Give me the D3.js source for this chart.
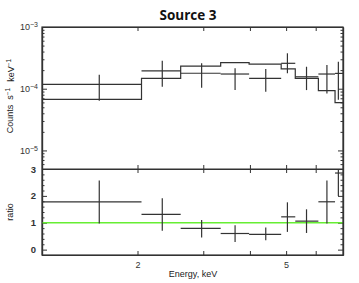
<!DOCTYPE html>
<html>
<head>
<meta charset="utf-8">
<script src="https://cdn.jsdelivr.net/npm/d3@7"></script>
<style>
  body { margin: 0; background: #fff; }
  text { font-family: "Liberation Sans", Arial, sans-serif; fill: #222; }
</style>
</head>
<body>
<div id="chart"></div>
<script>
// energy bins (keV)
const binLo  = [1.00, 2.05, 2.61, 3.34, 3.98, 4.85, 5.29, 6.10, 6.76];
const binHi  = [2.05, 2.61, 3.34, 3.98, 4.85, 5.29, 6.10, 6.76, 7.10];
const binMid = [1.58, 2.33, 2.97, 3.65, 4.41, 5.04, 5.67, 6.43, 6.90];

// counts s^-1 keV^-1
const rate   = [1.18e-4, 1.94e-4, 1.78e-4, 1.73e-4, 1.475e-4, 2.58e-4, 1.56e-4, 1.73e-4, 1.77e-4];
const rateLo = [6.4e-5, 1.08e-4, 1.04e-4, 9.5e-5, 8.9e-5, 1.78e-4, 9.5e-5, 8.4e-5, 6.6e-5];
const rateHi = [1.69e-4, 2.84e-4, 2.58e-4, 2.14e-4, 2.09e-4, 3.75e-4, 2.27e-4, 2.42e-4, 2.74e-4];
const model  = [6.73e-5, 1.475e-4, 2.33e-4, 2.64e-4, 2.51e-4, 2.09e-4, 1.475e-4, 9.3e-5, 5.93e-5];

// data / model
const ratio   = [1.78, 1.31, 0.79, 0.60, 0.57, 1.22, 1.06, 1.78, 2.85];
const ratioLo = [0.97, 0.70, 0.45, 0.28, 0.35, 0.66, 0.62, 0.97, 2.00];
const ratioHi = [2.57, 1.91, 1.10, 0.91, 0.82, 1.76, 1.50, 2.57, 3.30];

const xTicks = [2, 3, 4, 5, 6];
const xLabels = [2, 5];
const yMajor = [1e-3, 1e-4, 1e-5];
const rMajor = [0, 1, 2, 3];

const W = 359, H = 283;
const pL = 42, pR = 343, pT = 27, pM = 169, pB = 255;
const ink = "#333";

const x = d3.scaleLog().domain([1.11, 7.1]).range([pL, pR]);
const y = d3.scaleLog().domain([5e-6, 1e-3]).range([pM, pT]);
const r = d3.scaleLinear().domain([-0.2, 3]).range([pB, pM]);

const bins = binLo.map((lo, i) => ({
  lo, hi: binHi[i], mid: binMid[i],
  v: rate[i], vlo: rateLo[i], vhi: rateHi[i], m: model[i],
  q: ratio[i], qlo: ratioLo[i], qhi: ratioHi[i]
}));

const svg = d3.select("#chart").append("svg")
  .attr("width", W).attr("height", H);

svg.append("clipPath").attr("id", "clipTop")
  .append("rect").attr("x", pL).attr("y", pT).attr("width", pR - pL).attr("height", pM - pT);
svg.append("clipPath").attr("id", "clipBot")
  .append("rect").attr("x", pL).attr("y", pM).attr("width", pR - pL).attr("height", pB - pM);

// title
svg.append("text")
  .attr("x", 188).attr("y", 20)
  .attr("text-anchor", "middle")
  .style("font-family", "'Open Sans', sans-serif")
  .style("font-weight", 700)
  .style("font-size", "13.5px")
  .style("fill", "#111")
  .text("Source 3");

// minor tick values
const yMinor = [];
[1e-6, 1e-5, 1e-4].forEach(d => { for (let k = 2; k <= 9; k++) { const v = k * d; if (v >= 5e-6 && v < 1e-3) yMinor.push(v); } });
const rMinor = d3.range(-0.2, 3.01, 0.2).filter(v => Math.abs(v - Math.round(v)) > 1e-6);

function styleAxis(g) {
  g.select(".domain").attr("stroke", ink).attr("stroke-width", 1.2);
  g.selectAll(".tick line").attr("stroke", ink).attr("stroke-width", 1);
  g.selectAll(".tick text").style("font-size", "9px").style("fill", "#333")
    .style("font-family", "'Liberation Sans', Arial, sans-serif");
}

function supLabels(g) {
  g.selectAll(".tick text").each(function(d) {
    const t = d3.select(this).text("");
    t.append("tspan").text("10");
    t.append("tspan").attr("dy", "-0.45em").style("font-size", "7px").text("\u2212" + Math.round(-Math.log10(d)));
  });
}

// upper panel axes
svg.append("g").attr("transform", `translate(${pL},0)`)
  .call(d3.axisLeft(y).tickValues(yMajor).tickSizeInner(-5).tickSizeOuter(0).tickPadding(4).tickFormat(d => d))
  .call(styleAxis).call(supLabels);
svg.append("g").attr("transform", `translate(${pL},0)`)
  .call(d3.axisLeft(y).tickValues(yMinor).tickSizeInner(-2.5).tickSizeOuter(0).tickFormat(""))
  .call(styleAxis);
svg.append("g").attr("transform", `translate(${pR},0)`)
  .call(d3.axisRight(y).tickValues(yMajor).tickSizeInner(-5).tickSizeOuter(0).tickFormat(""))
  .call(styleAxis);
svg.append("g").attr("transform", `translate(${pR},0)`)
  .call(d3.axisRight(y).tickValues(yMinor).tickSizeInner(-2.5).tickSizeOuter(0).tickFormat(""))
  .call(styleAxis);
svg.append("g").attr("transform", `translate(0,${pT})`)
  .call(d3.axisTop(x).tickValues(xTicks).tickSizeInner(-4).tickSizeOuter(0).tickFormat(""))
  .call(styleAxis);
svg.append("g").attr("transform", `translate(0,${pM})`)
  .call(d3.axisBottom(x).tickValues(xTicks).tickSizeInner(-4).tickSizeOuter(0).tickFormat(""))
  .call(styleAxis);

// ratio panel axes
svg.append("g").attr("transform", `translate(0,${pM})`)
  .call(d3.axisTop(x).tickValues(xTicks).tickSizeInner(-4).tickSizeOuter(0).tickFormat(""))
  .call(styleAxis);
svg.append("g").attr("transform", `translate(0,${pB})`)
  .call(d3.axisBottom(x).tickValues(xTicks).tickSizeInner(-4).tickSizeOuter(0).tickPadding(7)
    .tickFormat(d => xLabels.includes(d) ? d : ""))
  .call(styleAxis);
svg.append("g").attr("transform", `translate(${pL},0)`)
  .call(d3.axisLeft(r).tickValues(rMajor).tickSizeInner(-5).tickSizeOuter(0).tickPadding(6).tickFormat(d3.format("d")))
  .call(styleAxis)
  .call(g => g.selectAll(".tick text").style("font-weight", 700).style("font-size", "9.5px"));
svg.append("g").attr("transform", `translate(${pL},0)`)
  .call(d3.axisLeft(r).tickValues(rMinor).tickSizeInner(-2.5).tickSizeOuter(0).tickFormat(""))
  .call(styleAxis);
svg.append("g").attr("transform", `translate(${pR},0)`)
  .call(d3.axisRight(r).tickValues(rMajor).tickSizeInner(-5).tickSizeOuter(0).tickFormat(""))
  .call(styleAxis);
svg.append("g").attr("transform", `translate(${pR},0)`)
  .call(d3.axisRight(r).tickValues(rMinor).tickSizeInner(-2.5).tickSizeOuter(0).tickFormat(""))
  .call(styleAxis);

// model step line
const stepPts = bins.map(b => [b.lo, b.m]).concat([[binHi[binHi.length - 1], model[model.length - 1]]]);
const topG = svg.append("g").attr("clip-path", "url(#clipTop)");
topG.append("path")
  .datum(stepPts)
  .attr("fill", "none").attr("stroke", ink).attr("stroke-width", 1.2)
  .attr("d", d3.line().x(d => x(d[0])).y(d => y(d[1])).curve(d3.curveStepAfter));

// data crosses
topG.selectAll(".hbar").data(bins).join("line")
  .attr("x1", d => x(d.lo)).attr("x2", d => x(d.hi))
  .attr("y1", d => y(d.v)).attr("y2", d => y(d.v))
  .attr("stroke", ink).attr("stroke-width", 1.2);
topG.selectAll(".vbar").data(bins).join("line")
  .attr("x1", d => x(d.mid)).attr("x2", d => x(d.mid))
  .attr("y1", d => y(d.vlo)).attr("y2", d => y(d.vhi))
  .attr("stroke", ink).attr("stroke-width", 1.2);

// ratio panel
const botG = svg.append("g").attr("clip-path", "url(#clipBot)");
botG.append("line")
  .attr("x1", pL).attr("x2", pR).attr("y1", r(1)).attr("y2", r(1))
  .attr("stroke", "#66ee33").attr("stroke-width", 1.6);
botG.selectAll(".rh").data(bins).join("line")
  .attr("x1", d => x(d.lo)).attr("x2", d => x(d.hi))
  .attr("y1", d => r(d.q)).attr("y2", d => r(d.q))
  .attr("stroke", ink).attr("stroke-width", 1.2);
botG.selectAll(".rv").data(bins).join("line")
  .attr("x1", d => x(d.mid)).attr("x2", d => x(d.mid))
  .attr("y1", d => r(d.qlo)).attr("y2", d => r(d.qhi))
  .attr("stroke", ink).attr("stroke-width", 1.2);

// frame
svg.append("rect").attr("x", pL).attr("y", pT).attr("width", pR - pL).attr("height", pB - pT)
  .attr("fill", "none").attr("stroke", ink).attr("stroke-width", 1.2);
svg.append("line").attr("x1", pL).attr("x2", pR).attr("y1", pM).attr("y2", pM)
  .attr("stroke", ink).attr("stroke-width", 1.2);

// axis titles
const yl = svg.append("text")
  .attr("transform", `translate(13,96) rotate(-90)`)
  .attr("text-anchor", "middle")
  .style("font-size", "9px");
yl.append("tspan").text("Counts");
yl.append("tspan").attr("dx", 5).text("s");
yl.append("tspan").attr("dy", "-0.5em").style("font-size", "6.5px").text("\u22121");
yl.append("tspan").attr("dy", "0.5em").attr("dx", 6).text("keV");
yl.append("tspan").attr("dy", "-0.5em").style("font-size", "6.5px").text("\u22121");

svg.append("text")
  .attr("transform", `translate(13,212) rotate(-90)`)
  .attr("text-anchor", "middle")
  .style("font-size", "9px")
  .text("ratio");

svg.append("text")
  .attr("x", 193).attr("y", 277)
  .attr("text-anchor", "middle")
  .style("font-size", "9px")
  .text("Energy, keV");
</script>
</body>
</html>
